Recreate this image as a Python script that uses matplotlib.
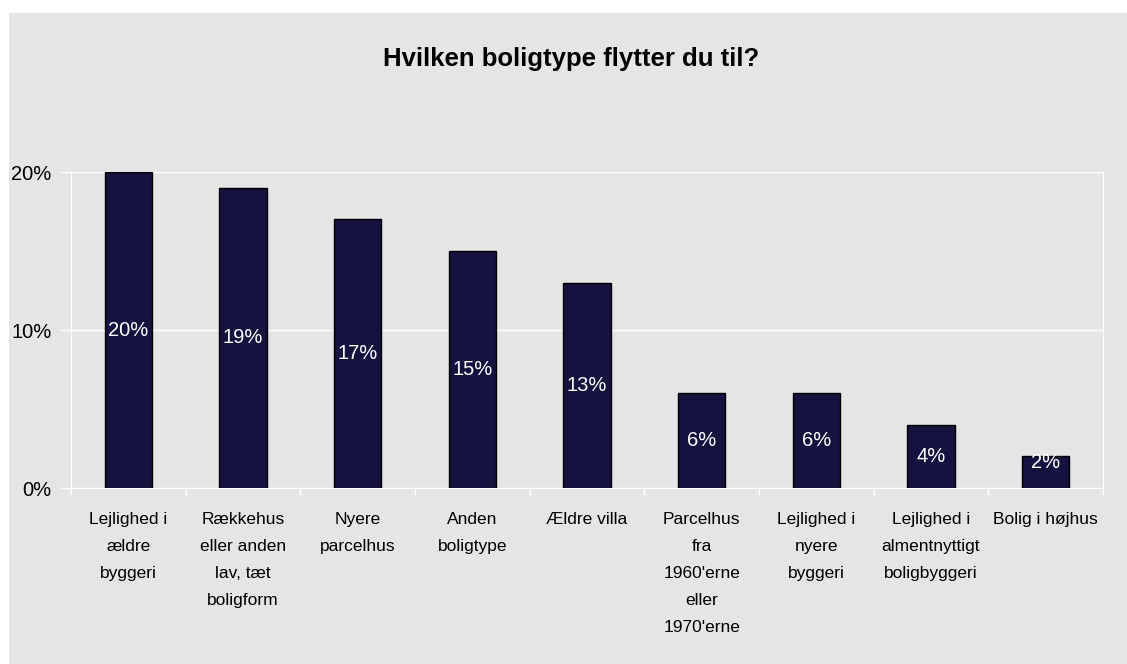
import matplotlib.pyplot as plt
from matplotlib.patches import Rectangle
from matplotlib.ticker import FixedLocator, FuncFormatter

categories = ["Lejlighed i\nældre\nbyggeri",
              "Rækkehus\neller anden\nlav, tæt\nboligform",
              "Nyere\nparcelhus",
              "Anden\nboligtype",
              "Ældre villa",
              "Parcelhus\nfra\n1960'erne\neller\n1970'erne",
              "Lejlighed i\nnyere\nbyggeri",
              "Lejlighed i\nalmentnyttigt\nboligbyggeri",
              "Bolig i højhus"]
values = [20, 19, 17, 15, 13, 6, 6, 4, 2]
yticks = [0, 10, 20]

bg = "#e5e5e5"
bar_col = "#15123f"
plt.rcParams['font.family'] = ['Liberation Sans', 'DejaVu Sans']

fig = plt.figure(figsize=(11.27, 6.64), dpi=100, facecolor="white")
fig.patches.append(Rectangle((9 / 1127, 0), 1 - 9 / 1127, 1 - 13 / 664,
                             transform=fig.transFigure, facecolor=bg,
                             edgecolor="none", zorder=-10))

ax = fig.add_axes([71 / 1127, 1 - 488 / 664, (1103 - 71) / 1127, (488 - 172) / 664])
ax.set_facecolor(bg)

x = range(len(values))
ax.bar(x, values, width=0.41, color=bar_col, edgecolor="black", linewidth=1, zorder=3)
for i, v in enumerate(values):
    # label sits in the middle of the bar, but not too low on short bars
    ax.text(i, max(v / 2, 1.6), f"{v}%", ha="center", va="center", color="white",
            fontsize=14.5, zorder=4)

ax.set_xlim(-0.5, len(values) - 0.5)
ax.set_ylim(0, 20)
ax.yaxis.set_major_locator(FixedLocator(yticks))
ax.yaxis.set_major_formatter(FuncFormatter(lambda v, p: f"{v:.0f}%"))
ax.grid(axis="y", color="white", linewidth=1, zorder=0)

ax.set_xticks(list(x))
ax.set_xticklabels(categories, fontsize=12.5, linespacing=2.0, va="top")
ax.tick_params(axis="x", length=0, pad=17)
ax.set_xticks([i + 0.5 for i in range(-1, len(values))], minor=True)
ax.tick_params(axis="x", which="minor", length=5, color="white", width=1)
ax.tick_params(axis="y", length=8, color="white", width=1, labelsize=14.5, pad=6)

for s in ["left", "right", "bottom"]:
    ax.spines[s].set_color("white")
ax.spines["top"].set_visible(False)

fig.text(571 / 1127, 1 - 59 / 664, "Hvilken boligtype flytter du til?",
         ha="center", va="center", fontsize=18.5, fontweight="bold")

fig.savefig("out.png", dpi=100, facecolor=fig.get_facecolor())
